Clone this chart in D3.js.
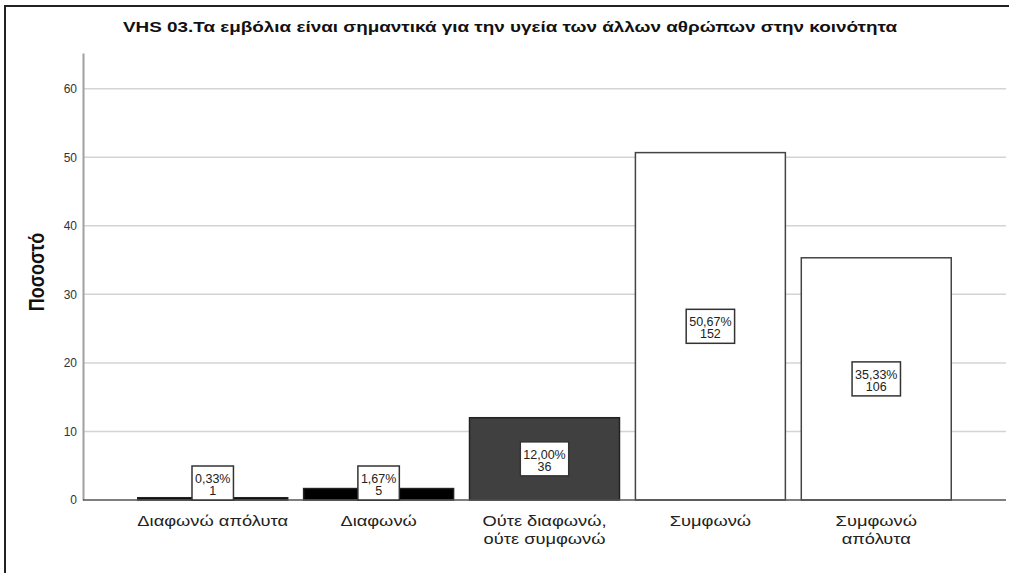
<!DOCTYPE html>
<html>
<head>
<meta charset="utf-8">
<script src="https://cdn.jsdelivr.net/npm/d3@7"></script>
<style>
  body { margin: 0; background: #fff; }
  text { font-family: "Liberation Sans", Arial, sans-serif; }
</style>
</head>
<body>
<div id="svgdiv"></div>
<script>
// chart values
var categories = ["Διαφωνώ απόλυτα", "Διαφωνώ", "Ούτε διαφωνώ, ούτε συμφωνώ", "Συμφωνώ", "Συμφωνώ απόλυτα"];
var categoryLines = [["Διαφωνώ απόλυτα"], ["Διαφωνώ"], ["Ούτε διαφωνώ,", "ούτε συμφωνώ"], ["Συμφωνώ"], ["Συμφωνώ", "απόλυτα"]];
var percents = [0.33, 1.67, 12.00, 50.67, 35.33];
var counts = [1, 5, 36, 152, 106];
var barColors = ["#000000", "#000000", "#404040", "#ffffff", "#ffffff"];
var yTicks = [0, 10, 20, 30, 40, 50, 60];
var title = "VHS 03.Τα εμβόλια είναι σημαντικά για την υγεία των άλλων αθρώπων στην κοινότητα";
var yTitle = "Ποσοστό";

var width = 1009, height = 573;
var margin = { left: 83, right: 1006, top: 53, bottom: 500 };
var stretch = 1.22; // the reference text is drawn wider than normal

var svg = d3.select("#svgdiv").append("svg")
    .attr("width", width)
    .attr("height", height);

// frame (left and top edges visible)
svg.append("path")
    .attr("d", "M5,573V6H1009")
    .attr("fill", "none")
    .attr("stroke", "#222")
    .attr("stroke-width", 2);

var x = d3.scaleBand()
    .domain(categories)
    .range([margin.left, margin.right])
    .paddingInner(0.096)
    .paddingOuter(0.33);

var y = d3.scaleLinear()
    .domain([0, 65.2])
    .range([margin.bottom, margin.top]);

// gridlines
svg.append("g")
    .selectAll("line")
    .data(yTicks.slice(1))
    .enter().append("line")
    .attr("x1", margin.left)
    .attr("x2", margin.right)
    .attr("y1", d => y(d))
    .attr("y2", d => y(d))
    .attr("stroke", "#d4d4d4")
    .attr("stroke-width", 1.5);

// y axis
var yAxis = svg.append("g")
    .attr("transform", "translate(" + margin.left + ",0)")
    .call(d3.axisLeft(y).tickValues(yTicks).tickSize(0).tickPadding(6));
yAxis.select(".domain").attr("stroke", "#a0a0a0").attr("stroke-width", 2);
yAxis.selectAll("text")
    .attr("fill", "#333")
    .style("font-size", "12px")
    .style("font-family", "Liberation Sans, Arial, sans-serif");

// bars
svg.append("g")
    .selectAll("rect")
    .data(categories)
    .enter().append("rect")
    .attr("x", d => x(d))
    .attr("width", x.bandwidth())
    .attr("y", (d, i) => y(percents[i]))
    .attr("height", (d, i) => y(0) - y(percents[i]))
    .attr("fill", (d, i) => barColors[i])
    .attr("stroke", (d, i) => i > 2 ? "#444" : "#222")
    .attr("stroke-width", 1.5);

// baseline
svg.append("line")
    .attr("x1", margin.left)
    .attr("x2", margin.right)
    .attr("y1", y(0))
    .attr("y2", y(0))
    .attr("stroke", "#555")
    .attr("stroke-width", 1.5);

// value labels in boxes
var boxH = 34;
var labels = svg.append("g")
    .selectAll("g")
    .data(categories)
    .enter().append("g")
    .attr("transform", function (d, i) {
        var mid = (y(0) + y(percents[i])) / 2;
        var cy = Math.min(mid, y(0) - boxH / 2);
        return "translate(" + (x(d) + x.bandwidth() / 2) + "," + cy + ")";
    });

labels.each(function (d, i) {
    var g = d3.select(this);
    var rect = g.append("rect").attr("fill", "#fff").attr("stroke", "#333").attr("stroke-width", 1.5);
    var pct = g.append("text")
        .attr("text-anchor", "middle")
        .attr("fill", "#222")
        .attr("y", 0)
        .style("font-size", "12.5px")
        .text(d3.format(".2f")(percents[i]).replace(".", ",") + "%");
    g.append("text")
        .attr("text-anchor", "middle")
        .attr("fill", "#222")
        .attr("y", 12)
        .style("font-size", "12.5px")
        .text(counts[i]);
    var w = pct.node().getBBox().width + 6;
    rect.attr("x", -w / 2).attr("y", -boxH / 2).attr("width", w).attr("height", boxH);
});

// category labels
var cats = svg.append("g")
    .selectAll("text")
    .data(categories)
    .enter().append("text")
    .attr("text-anchor", "middle")
    .attr("fill", "#222")
    .style("font-size", "15px")
    .attr("transform", d => "translate(" + (x(d) + x.bandwidth() / 2) + ",526) scale(" + stretch + ",1)");
cats.each(function (d, i) {
    var t = d3.select(this);
    categoryLines[i].forEach(function (line, k) {
        t.append("tspan").attr("x", 0).attr("y", k * 18.5).text(line);
    });
});

// y title
svg.append("text")
    .attr("transform", "translate(44," + 272 + ") rotate(-90) scale(1," + stretch + ")")
    .attr("text-anchor", "middle")
    .attr("font-weight", "bold")
    .attr("fill", "#111")
    .style("font-size", "18px")
    .text(yTitle);

// title
svg.append("text")
    .attr("x", 510)
    .attr("y", 32)
    .attr("text-anchor", "middle")
    .attr("font-weight", "bold")
    .attr("fill", "#111")
    .style("font-size", "15px")
    .attr("textLength", 774)
    .attr("lengthAdjust", "spacingAndGlyphs")
    .text(title);
</script>
</body>
</html>
